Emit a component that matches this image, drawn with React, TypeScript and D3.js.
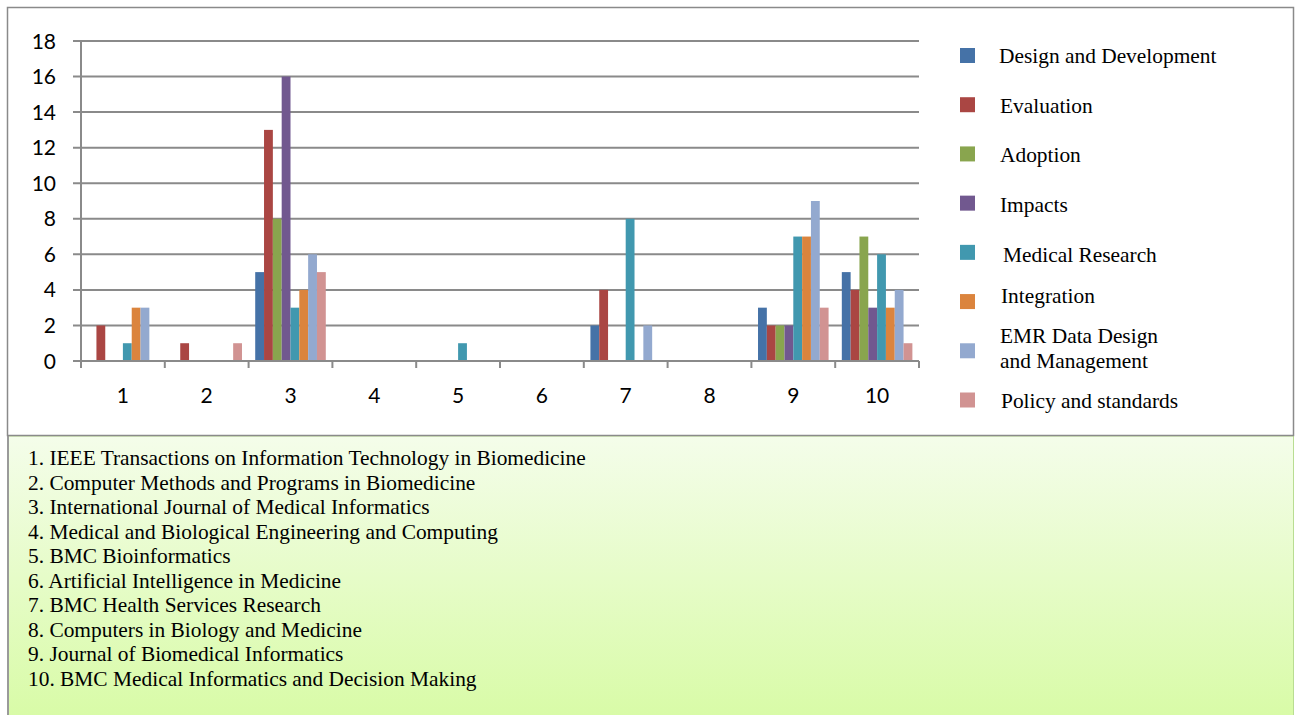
import React from "react";
import * as d3 from "d3";

const categories = ["1", "2", "3", "4", "5", "6", "7", "8", "9", "10"];
const seriesNames = [
  "Design and Development",
  "Evaluation",
  "Adoption",
  "Impacts",
  "Medical Research",
  "Integration",
  "EMR Data Design|and Management",
  "Policy and standards",
];
const seriesColors = ["#4572A7", "#AA4643", "#89A54E", "#71588F", "#4198AF", "#DB843D", "#93A9CF", "#D19392"];
const designDev = [0, 0, 5, 0, 0, 0, 2, 0, 3, 5];
const evaluation = [2, 1, 13, 0, 0, 0, 4, 0, 2, 4];
const adoption = [0, 0, 8, 0, 0, 0, 0, 0, 2, 7];
const impacts = [0, 0, 16, 0, 0, 0, 0, 0, 2, 3];
const medicalResearch = [1, 0, 3, 0, 1, 0, 8, 0, 7, 6];
const integration = [3, 0, 4, 0, 0, 0, 0, 0, 7, 3];
const emrData = [3, 0, 6, 0, 0, 0, 2, 0, 9, 4];
const policy = [0, 1, 5, 0, 0, 0, 0, 0, 3, 1];
const yTicks = [0, 2, 4, 6, 8, 10, 12, 14, 16, 18];
const journals = [
  "1. IEEE Transactions on Information Technology in Biomedicine",
  "2. Computer Methods and Programs in Biomedicine",
  "3. International Journal of Medical Informatics",
  "4. Medical and Biological Engineering and Computing",
  "5. BMC Bioinformatics",
  "6. Artificial Intelligence in Medicine",
  "7. BMC Health Services Research",
  "8. Computers in Biology and Medicine",
  "9. Journal of Biomedical Informatics",
  "10. BMC Medical Informatics and Decision Making",
];

const seriesValues = [designDev, evaluation, adoption, impacts, medicalResearch, integration, emrData, policy];

export default function App() {
  const W = 1295, H = 715;
  const x0 = d3.scaleBand().domain(categories).range([81, 919]).paddingInner(0).paddingOuter(0);
  const x1 = d3.scaleBand().domain(seriesNames).range([0, x0.bandwidth()]).paddingInner(0).paddingOuter(0.75);
  const y = d3.scaleLinear().domain([0, 18]).range([361, 41]);
  const grid = "#8a8a8a";
  const legendY = d3.scaleLinear().domain([0, 7]).range([55.5, 400]);
  const textYOffsets = [7.5, 8, 8.5, 8.5, 9.5, 1.5, 0, 8];
  const textXOffsets = [0, 1, 1, 1, 4, 2, 1, 2];
  const journalY = d3.scaleLinear().domain([0, 9]).range([465, 686]);
  const serif = "'Liberation Serif', 'Times New Roman', serif";
  const fs = 21.4;

  return (
    <svg width={W} height={H} style={{ position: "absolute", left: 0, top: 0 }}>
      <defs>
        <linearGradient id="greenGrad" x1="0" y1="0" x2="0" y2="1">
          <stop offset="0%" stopColor="#f4fdea" />
          <stop offset="100%" stopColor="#d8fba6" />
        </linearGradient>
      </defs>
      <rect x={0} y={0} width={W} height={H} fill="#fff" />
      {/* bottom journal box */}
      <rect x={7.5} y={436} width={1286} height={285} fill="url(#greenGrad)" stroke="#b9dd92" strokeWidth={1} />
      <line x1={8} y1={436} x2={8} y2={715} stroke="#9a9a9a" strokeWidth={2} />
      {/* chart box */}
      <rect x={7.5} y={7.5} width={1286} height={428} fill="#fff" stroke={grid} strokeWidth={1.5} />

      {/* gridlines */}
      {yTicks.map((t) => (
        <line key={"g" + t} x1={73} x2={919} y1={y(t)} y2={y(t)} stroke={grid} strokeWidth={2} />
      ))}
      <line x1={81} x2={81} y1={y(18)} y2={368} stroke={grid} strokeWidth={2} />
      {categories.map((c) => (
        <line key={"t" + c} x1={x0(c)!} x2={x0(c)!} y1={361} y2={368} stroke={grid} strokeWidth={2} />
      ))}
      <line x1={919} x2={919} y1={361} y2={368} stroke={grid} strokeWidth={2} />

      {/* bars */}
      {categories.map((c, ci) => (
        <g key={"c" + c} transform={`translate(${x0(c)},0)`}>
          {seriesNames.map((s, si) => {
            const v = seriesValues[si][ci];
            if (!v) return null;
            return (
              <rect
                key={s}
                x={x1(s)!}
                y={y(v)}
                width={x1.bandwidth()}
                height={y(0) - y(v)}
                fill={seriesColors[si]}
              />
            );
          })}
        </g>
      ))}
      <line x1={73} x2={919} y1={y(0)} y2={y(0)} stroke={grid} strokeWidth={2} />

      {/* y tick labels */}
      {yTicks.map((t) => (
        <text key={"yl" + t} x={56} y={y(t)} dy="0.36em" textAnchor="end" fontFamily="Lato, 'Liberation Sans', sans-serif" fontSize={21} fill="#000">
          {t}
        </text>
      ))}
      {/* x tick labels */}
      {categories.map((c) => (
        <text key={"xl" + c} x={x0(c)! + x0.bandwidth() / 2} y={403} textAnchor="middle" fontFamily="Lato, 'Liberation Sans', sans-serif" fontSize={21} fill="#000">
          {c}
        </text>
      ))}

      {/* legend */}
      {seriesNames.map((s, i) => {
        const cy = legendY(i);
        const lines = s.split("|");
        const tx = 999 + textXOffsets[i];
        return (
          <g key={"lg" + i}>
            <rect x={960} y={cy - 7.5} width={15} height={15} fill={seriesColors[i]} />
            {lines.length === 1 ? (
              <text x={tx} y={cy + textYOffsets[i]} fontFamily={serif} fontSize={fs} fill="#000">
                {s}
              </text>
            ) : (
              <text x={tx} y={cy - 8} fontFamily={serif} fontSize={fs} fill="#000">
                <tspan x={tx} dy={0}>{lines[0]}</tspan>
                <tspan x={tx} dy={25}>{lines[1]}</tspan>
              </text>
            )}
          </g>
        );
      })}

      {/* journal list */}
      {journals.map((j, i) => (
        <text key={"j" + i} x={28} y={journalY(i)} fontFamily={serif} fontSize={fs} fill="#000">
          {j}
        </text>
      ))}
    </svg>
  );
}
